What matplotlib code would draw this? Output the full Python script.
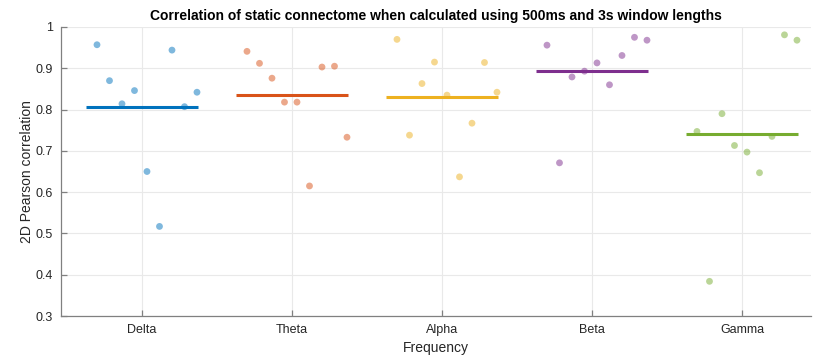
import numpy as np
import matplotlib
matplotlib.use("Agg")
import matplotlib.pyplot as plt

plt.rcParams['font.family'] = ['Liberation Sans', 'DejaVu Sans']

# Values
bands = ["Delta", "Theta", "Alpha", "Beta", "Gamma"]
delta = [0.957, 0.870, 0.814, 0.846, 0.650, 0.517, 0.944, 0.807, 0.842]
theta = [0.941, 0.912, 0.876, 0.818, 0.818, 0.615, 0.903, 0.905, 0.733]
alpha = [0.970, 0.738, 0.863, 0.915, 0.835, 0.637, 0.767, 0.914, 0.842]
beta = [0.956, 0.671, 0.879, 0.893, 0.913, 0.860, 0.931, 0.975, 0.968]
gamma = [0.747, 0.384, 0.790, 0.713, 0.697, 0.647, 0.735, 0.981, 0.968]
series = [delta, theta, alpha, beta, gamma]

colors = ["#0072BD", "#D95319", "#EDB120", "#7E2F8E", "#77AC30"]

fig = plt.figure(figsize=(8.22, 3.57), dpi=100)
ax = fig.add_axes([0.0742, 0.1148, 0.9124, 0.8096])

for i, (vals, c) in enumerate(zip(series, colors)):
    pos = i + 1
    # subjects spread across each band
    offs = -0.3 + np.arange(len(vals)) / 12.0
    ax.scatter(pos + offs, vals, s=24, color=c, alpha=0.5, edgecolors='none', zorder=3)
    m = np.mean(vals)
    ax.plot([pos - 0.375, pos + 0.373], [m, m], color=c, lw=2.2, zorder=4,
            solid_capstyle='butt')

ax.set_xlim(0.46, 5.46)
ax.set_ylim(0.3, 1.0)
ax.set_xticks(range(1, 6))
ax.set_xticklabels(bands)
ax.set_yticks(np.arange(0.3, 1.01, 0.1))
ax.set_yticklabels(["0.3", "0.4", "0.5", "0.6", "0.7", "0.8", "0.9", "1"])

ax.grid(True, color='#e9e9e9', lw=0.8)
ax.set_axisbelow(True)
for s in ['top', 'right']:
    ax.spines[s].set_visible(False)
for s in ['left', 'bottom']:
    ax.spines[s].set_color('#808080')
    ax.spines[s].set_linewidth(0.9)
ax.tick_params(direction='in', length=4, width=0.9, color='#808080',
               labelsize=9, labelcolor='#262626', pad=6)

ax.set_title("Correlation of static connectome when calculated using 500ms and 3s window lengths",
             fontsize=10, fontweight='bold', pad=5)
ax.set_xlabel("Frequency", fontsize=10, color='#262626', labelpad=3)
ax.set_ylabel("2D Pearson correlation", fontsize=10, color='#262626', labelpad=1)

fig.savefig("out.png", dpi=100)
